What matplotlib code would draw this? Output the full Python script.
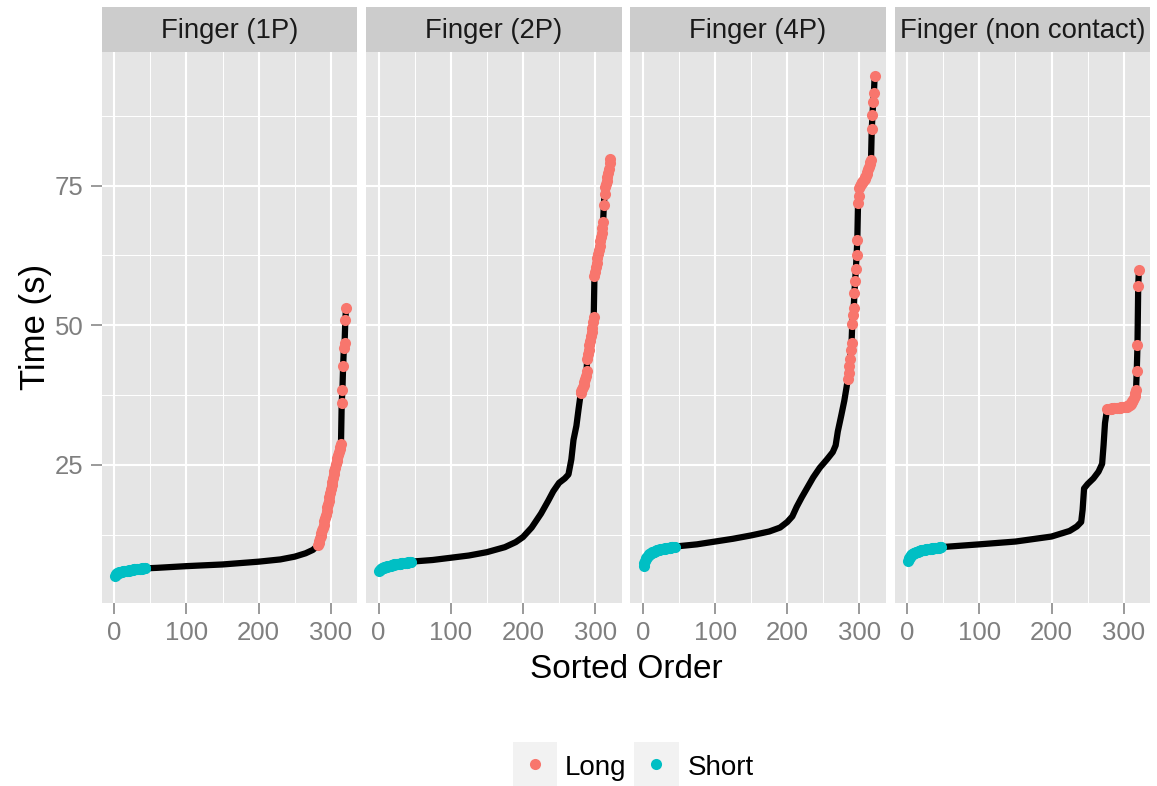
import numpy as np
import matplotlib
matplotlib.use("Agg")
import matplotlib.pyplot as plt
from matplotlib.patches import Rectangle
from matplotlib.lines import Line2D

plt.rcParams['font.family'] = ['Liberation Sans', 'DejaVu Sans']

# ---------------------------------------------------------------- data
panel_titles = ["Finger (1P)", "Finger (2P)", "Finger (4P)", "Finger (non contact)"]
n_trials = 321

# Finger (1P)
short_1p = [5.2, 5.4, 5.5, 5.6, 5.7, 5.7, 5.8, 5.8, 5.9, 5.9, 5.9, 6.0, 6.0, 6.0,
            6.0, 6.1, 6.1, 6.1, 6.1, 6.1, 6.2, 6.2, 6.2, 6.2, 6.2, 6.2, 6.3, 6.3,
            6.3, 6.3, 6.3, 6.3, 6.4, 6.4, 6.4, 6.4, 6.4, 6.4, 6.5, 6.5, 6.5, 6.5, 6.5]
mid_rank_1p = [60, 100, 150, 200, 230, 250, 265, 275]
mid_time_1p = [6.6, 6.9, 7.2, 7.7, 8.1, 8.6, 9.2, 9.8]
long_1p = [10.6, 11.0, 11.4, 11.9, 12.3, 12.8, 13.3, 13.8, 14.3, 14.9, 15.5, 16.1,
           16.8, 17.4, 18.0, 18.6, 19.3, 20.0, 20.7, 21.4, 22.0, 22.7, 23.3, 23.9,
           24.5, 25.1, 25.7, 26.2, 26.8, 27.3, 27.8, 28.3, 28.7, 36.1, 38.5, 42.8,
           45.9, 46.8, 50.9, 53.1]

# Finger (2P)
short_2p = [6.0, 6.2, 6.3, 6.4, 6.5, 6.6, 6.6, 6.7, 6.7, 6.8, 6.8, 6.9, 6.9, 6.9,
            7.0, 7.0, 7.0, 7.1, 7.1, 7.1, 7.1, 7.2, 7.2, 7.2, 7.2, 7.3, 7.3, 7.3,
            7.3, 7.3, 7.4, 7.4, 7.4, 7.4, 7.4, 7.5, 7.5, 7.5, 7.5, 7.5, 7.6, 7.6,
            7.6, 7.6, 7.7]
mid_rank_2p = [75, 100, 125, 150, 175, 190, 200, 212, 225, 235, 242, 250, 258, 263,
               267, 270, 274, 277]
mid_time_2p = [8.0, 8.4, 8.8, 9.4, 10.3, 11.2, 12.1, 13.8, 16.3, 18.6, 20.3, 21.8,
               22.6, 23.3, 26.0, 29.5, 32.0, 35.0]
long_2p = [37.8, 38.2, 38.6, 39.0, 39.4, 39.8, 40.3, 41.0, 41.8, 44.0, 44.8, 45.6,
           46.4, 47.2, 48.0, 48.8, 49.6, 50.5, 51.5, 58.8, 59.6, 60.4, 61.2, 62.0,
           62.8, 63.5, 64.2, 65.0, 65.8, 66.6, 67.4, 68.5, 71.5, 73.5, 74.8, 75.3,
           75.8, 76.5, 77.2, 78.0, 79.0, 79.8]

# Finger (4P)
short_4p = [6.9, 7.4, 7.8, 8.1, 8.4, 8.6, 8.8, 8.9, 9.0, 9.1, 9.2, 9.3, 9.4, 9.4,
            9.5, 9.5, 9.6, 9.6, 9.7, 9.7, 9.8, 9.8, 9.8, 9.9, 9.9, 9.9, 10.0, 10.0,
            10.0, 10.0, 10.1, 10.1, 10.1, 10.1, 10.2, 10.2, 10.2, 10.2, 10.3, 10.3,
            10.3, 10.3, 10.4, 10.4]
mid_rank_4p = [75, 100, 125, 150, 175, 190, 200, 207, 213, 220, 228, 236, 245, 255,
               263, 267, 270, 275, 279]
mid_time_4p = [10.8, 11.3, 11.8, 12.4, 13.1, 13.8, 14.8, 15.8, 17.5, 19.2, 21.0,
               22.8, 24.5, 26.0, 27.3, 28.5, 31.0, 34.0, 36.5]
long_4p = [40.4, 41.5, 42.8, 44.0, 45.5, 46.8, 50.3, 51.8, 53.1, 55.8, 58.0, 60.0,
           62.5, 65.2, 71.8, 73.2, 74.5, 75.0, 75.2, 75.4, 75.6, 75.8, 76.0, 76.2,
           76.5, 76.8, 77.1, 77.5, 77.9, 78.3, 78.8, 79.2, 79.6, 85.1, 87.6, 90.0,
           91.6, 94.6]

# Finger (non contact)
short_nc = [7.8, 8.1, 8.4, 8.6, 8.8, 8.9, 9.0, 9.1, 9.2, 9.3, 9.3, 9.4, 9.4, 9.5,
            9.5, 9.6, 9.6, 9.6, 9.7, 9.7, 9.7, 9.8, 9.8, 9.8, 9.8, 9.9, 9.9, 9.9,
            9.9, 10.0, 10.0, 10.0, 10.0, 10.0, 10.1, 10.1, 10.1, 10.1, 10.1, 10.2,
            10.2, 10.2, 10.2, 10.2, 10.3, 10.3, 10.3]
mid_rank_nc = [100, 150, 200, 225, 235, 241, 243, 245, 250, 258, 265, 270, 272, 274]
mid_time_nc = [10.8, 11.3, 12.2, 13.2, 14.0, 14.8, 17.0, 20.8, 21.6, 22.6, 23.8,
               25.2, 28.5, 32.5]
long_nc = [35.1, 35.1, 35.1, 35.1, 35.1, 35.1, 35.1, 35.2, 35.2, 35.2, 35.2, 35.2,
           35.2, 35.2, 35.2, 35.2, 35.2, 35.2, 35.2, 35.3, 35.3, 35.3, 35.3, 35.3,
           35.3, 35.3, 35.3, 35.4, 35.5, 35.6, 35.7, 35.8, 35.9, 36.0, 36.2, 36.4,
           36.7, 37.0, 37.4, 37.9, 38.5, 41.9, 46.5, 57.1, 59.9]

series = [
    (short_1p, mid_rank_1p, mid_time_1p, long_1p),
    (short_2p, mid_rank_2p, mid_time_2p, long_2p),
    (short_4p, mid_rank_4p, mid_time_4p, long_4p),
    (short_nc, mid_rank_nc, mid_time_nc, long_nc),
]

x_ticks = [0, 100, 200, 300]
x_minor = [50, 150, 250]
y_ticks = [25, 50, 75]
y_minor = [12.5, 37.5, 62.5, 87.5]

legend_labels = ["Long", "Short"]
colors = {"Long": "#F8766D", "Short": "#00BFC4"}

# ---------------------------------------------------------------- layout
W, H = 1157, 786
fig = plt.figure(figsize=(W / 100, H / 100), dpi=100)
fig.patch.set_facecolor("white")


def fx(px):
    return px / W


def fy(py):
    return 1 - py / H


panel_w = 255.6
panel_step = 264.3
panel_top, panel_bot = 52.0, 603.3
strip_top = 7.3

for i, (title, (short_t, mid_r, mid_t, long_t)) in enumerate(zip(panel_titles, series)):
    left = 101.7 + i * panel_step
    ax = fig.add_axes([fx(left), fy(panel_bot), panel_w / W, (panel_bot - panel_top) / H])
    ax.set_facecolor("#E5E5E5")
    for s in ax.spines.values():
        s.set_visible(False)

    short_r = np.arange(1, len(short_t) + 1)
    long_r = np.arange(n_trials - len(long_t) + 1, n_trials + 1)
    ranks = np.concatenate([short_r, np.asarray(mid_r), long_r])
    times = np.concatenate([short_t, mid_t, long_t])

    ax.plot(ranks, times, color="black", lw=4.5, solid_capstyle="round",
            solid_joinstyle="round", zorder=3)
    ax.plot(short_r, short_t, "o", color=colors["Short"], ms=8.0, mew=0, zorder=4)
    ax.plot(long_r, long_t, "o", color=colors["Long"], ms=8.0, mew=0, zorder=4)

    ax.set_xlim(-17.4, 336.6)
    ax.set_ylim(0.25, 98.9)
    ax.set_xticks(x_ticks)
    ax.set_xticks(x_minor, minor=True)
    ax.set_yticks(y_ticks)
    ax.set_yticks(y_minor, minor=True)
    ax.grid(which="major", color="white", lw=1.5, zorder=0)
    ax.grid(which="minor", color="white", lw=0.7, zorder=0)
    ax.set_axisbelow(True)
    ax.tick_params(which="minor", length=0)
    ax.tick_params(axis="x", which="major", length=8, width=1.1, color="#7F7F7F",
                   labelsize=18.5, labelcolor="#7F7F7F", pad=5)
    if i == 0:
        ax.tick_params(axis="y", which="major", length=8, width=1.1, color="#7F7F7F",
                       labelsize=18.5, labelcolor="#7F7F7F", pad=5)
        ax.set_yticklabels([str(v) for v in y_ticks])
    else:
        ax.tick_params(axis="y", which="both", length=0, labelleft=False)

    sax = fig.add_axes([fx(left), fy(panel_top), panel_w / W, (panel_top - strip_top) / H])
    sax.set_facecolor("#CCCCCC")
    sax.set_xticks([])
    sax.set_yticks([])
    for s in sax.spines.values():
        s.set_visible(False)
    sax.text(0.5, 0.47, title, ha="center", va="center", fontsize=19.8,
             color="#1A1A1A", transform=sax.transAxes)

# axis titles
fig.text(fx(626), fy(669), "Sorted Order", ha="center", va="center", fontsize=24)
fig.text(fx(35), fy(327), "Time (s)", ha="center", va="center", fontsize=25,
         rotation=90)

# legend
key_size = 44.5
for label, kx, tx in zip(legend_labels, [512.7, 634.0], [565.0, 688.0]):
    fig.add_artist(Rectangle((fx(kx), fy(742 + key_size)), key_size / W, key_size / H,
                             transform=fig.transFigure, facecolor="#F2F2F2",
                             edgecolor="none"))
    fig.add_artist(Line2D([fx(kx + key_size / 2)], [fy(764)], marker="o", ms=8,
                          mew=0, color=colors[label], transform=fig.transFigure))
    fig.text(fx(tx), fy(775), label, ha="left", va="baseline", fontsize=20)

fig.savefig("out.png", dpi=100)
